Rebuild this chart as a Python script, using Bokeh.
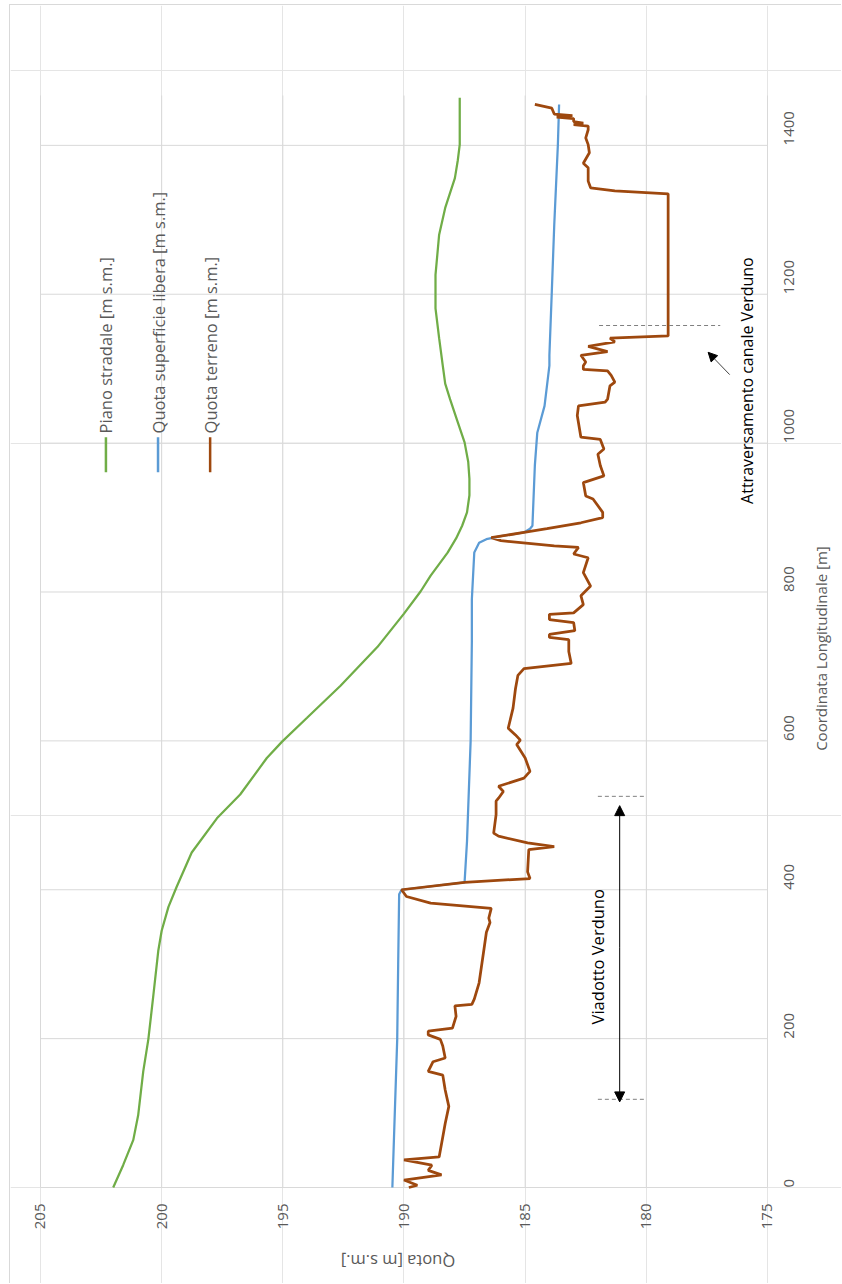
import math
from bokeh.plotting import figure
from bokeh.models import Range1d, FixedTicker, Arrow, NormalHead, LinearAxis
from bokeh.core.properties import value
from bokeh.embed import file_html
from bokeh.resources import INLINE

# Piano stradale [m s.m.]
coord_strada = [0, 30, 64, 97, 156, 199, 259, 318, 345, 377, 404, 450, 496, 528, 577,
                599, 631, 674, 726, 771, 801, 822, 853, 872, 889, 907, 930, 952, 975,
                1001, 1030, 1059, 1080, 1104, 1141, 1181, 1226, 1280, 1316, 1356, 1380,
                1401, 1464]
quota_strada = [202.0, 201.59, 201.17, 200.97, 200.76, 200.55, 200.34, 200.14, 200.0,
                199.72, 199.38, 198.76, 197.72, 196.76, 195.66, 195.03, 194.0, 192.62,
                191.1, 190.0, 189.31, 188.9, 188.2, 187.85, 187.6, 187.4, 187.3, 187.3,
                187.35, 187.5, 187.8, 188.1, 188.3, 188.4, 188.55, 188.7, 188.7, 188.55,
                188.3, 187.9, 187.78, 187.7, 187.7]

# Quota superficie libera [m s.m.]
coord_acqua = [0, 100, 199, 300, 394, 400, 410, 465, 600, 733, 790, 853, 866, 871,
               875, 880, 885, 889, 970, 1014, 1050, 1104, 1118, 1204, 1293, 1401, 1455]
quota_acqua = [190.48, 190.38, 190.28, 190.24, 190.2, 190.1, 187.5, 187.4, 187.25, 187.2,
               187.2, 187.1, 186.9, 186.6, 186.0, 185.05, 184.8, 184.7, 184.6, 184.5,
               184.2, 184.0, 184.0, 183.9, 183.8, 183.65, 183.6]

# Quota terreno [m s.m.]
coord_terreno = [0, 3, 10, 17, 23, 30, 37, 41, 68, 86, 109, 131, 151, 156, 169, 174,
                 190, 199, 205, 210, 214, 230, 244, 246, 253, 275, 320, 343, 356, 362,
                 375, 382, 391, 400, 410, 415, 424, 454, 458, 463, 472, 476, 501, 519,
                 523, 532, 539, 550, 559, 577, 595, 601, 608, 617, 644, 670, 688, 697,
                 704, 720, 736, 739, 743, 748, 759, 763, 770, 772, 783, 795, 808, 826,
                 846, 851, 860, 862, 869, 873, 880, 885, 893, 900, 907, 925, 929, 947,
                 956, 970, 985, 992, 1005, 1008, 1037, 1050, 1055, 1059, 1077, 1082,
                 1091, 1097, 1099, 1104, 1109, 1118, 1123, 1130, 1136, 1141, 1144,
                 1335, 1339, 1343, 1352, 1370, 1376, 1390, 1401, 1410, 1421, 1426,
                 1428, 1430, 1432, 1436, 1438, 1440, 1442, 1450, 1455]
quota_terreno = [189.8, 189.45, 190.0, 188.45, 189.0, 188.85, 190.0, 188.55, 188.4,
                 188.3, 188.15, 188.3, 188.4, 189.0, 188.8, 188.3, 188.4, 188.5, 189.0,
                 189.0, 188.0, 187.85, 187.9, 187.2, 187.1, 186.9, 186.7, 186.6, 186.45,
                 186.5, 186.4, 188.9, 189.9, 190.1, 187.5, 184.8, 184.9, 184.85, 183.8,
                 184.9, 186.1, 186.3, 186.2, 186.2, 186.1, 185.9, 186.1, 185.05, 184.8,
                 185.0, 185.35, 185.2, 185.4, 185.7, 185.5, 185.4, 185.3, 185.05, 183.1,
                 183.2, 183.2, 184.0, 184.0, 182.95, 183.0, 184.0, 184.0, 183.0, 182.6,
                 182.7, 182.3, 182.6, 182.4, 183.0, 182.8, 183.8, 186.0, 186.4, 185.05,
                 184.1, 182.7, 181.8, 181.8, 182.2, 182.5, 182.6, 181.75, 181.9, 182.0,
                 181.75, 181.9, 182.7, 182.85, 182.8, 181.7, 181.6, 181.5, 181.3, 181.45,
                 181.6, 182.6, 182.6, 182.5, 182.7, 181.6, 182.4, 181.3, 181.5, 179.1,
                 179.1, 181.3, 182.3, 182.4, 182.4, 182.6, 182.35, 182.4, 182.5, 182.4,
                 182.4, 183.0, 182.6, 183.0, 183.0, 183.7, 183.05, 183.8, 183.9, 184.6]

quota_ticks = [175, 180, 185, 190, 195, 200, 205]
coord_ticks = [0, 200, 400, 600, 800, 1000, 1200, 1400]

serie = [
    ("Piano stradale [m s.m.]", coord_strada, quota_strada, "#70AD47", 2.25),
    ("Quota superficie libera [m s.m.]", coord_acqua, quota_acqua, "#5B9BD5", 2.25),
    ("Quota terreno [m s.m.]", coord_terreno, quota_terreno, "#9E480E", 2.75),
]

FONT = "Open Sans"
GREY = "#595959"

# plotting area: quota 205 -> 175, progressive 0 -> COORD_TOP
Q_LEFT, Q_RIGHT = 205, 175
COORD_TOP = 1467

# the drawing frame fills the whole canvas; axes are pinned inside it
# (x: 24.23 px per metre of quota, y: 0.7444 px per metre of progressive)
p = figure(width=832, height=1279, output_backend="svg", toolbar_location=None,
           x_range=Range1d(206.238, 171.905), y_range=Range1d(-130.3, 1587.9),
           x_axis_location=None, y_axis_location=None,
           min_border_left=0, min_border_right=0, min_border_top=0,
           min_border_bottom=0)
p.margin = (4, 0, 0, 9)
p.styles = {"border-top": "1px solid #d9d9d9", "border-left": "1px solid #d9d9d9"}
p.outline_line_color = None
p.background_fill_color = "white"
p.border_fill_color = "white"

# grid limited to the plotting area
p.segment(x0=quota_ticks, y0=[0] * len(quota_ticks),
          x1=quota_ticks, y1=[COORD_TOP] * len(quota_ticks),
          line_color="#d9d9d9", line_width=1)
p.segment(x0=[Q_LEFT] * len(coord_ticks), y0=coord_ticks,
          x1=[Q_RIGHT] * len(coord_ticks), y1=coord_ticks,
          line_color="#d9d9d9", line_width=1)

# elevation axis along progressive 0, chainage axis along quota 175
xa = LinearAxis(fixed_location=0, ticker=FixedTicker(ticks=quota_ticks))
ya = LinearAxis(fixed_location=Q_RIGHT, ticker=FixedTicker(ticks=coord_ticks))
for ax in (xa, ya):
    ax.axis_line_color = None
    ax.major_tick_line_color = None
    ax.minor_tick_line_color = None
    ax.major_label_orientation = math.pi / 2
    ax.major_label_text_font = FONT
    ax.major_label_text_font_size = "15px"
    ax.major_label_text_color = GREY
xa.major_label_standoff = 10
ya.major_label_standoff = 16
p.add_layout(xa, "below")
p.add_layout(ya, "right")

# axis titles
p.text(x=[190.25], y=[-99], text=["Quota [m s.m.]"], angle=math.pi,
       text_font=value(FONT), text_font_size="16.5px", text_color=GREY,
       text_align="center", text_baseline="middle")
p.text(x=[172.81], y=[724], text=["Coordinata Longitudinale [m]"], angle=math.pi / 2,
       text_font=value(FONT), text_font_size="15px", text_color=GREY,
       text_align="center", text_baseline="middle")

for name, c, q, col, w in serie:
    p.line(q, c, line_color=col, line_width=w)

# legend, laid out as vertical entries
leg_x = [202.3, 200.15, 198.0]
for (name, c, q, col, w), lx in zip(serie, leg_x):
    p.segment(x0=[lx], y0=[961], x1=[lx], y1=[1008], line_color=col, line_width=2.5)
    p.text(x=[lx], y=[1013], text=[name], angle=math.pi / 2,
           text_font=value(FONT), text_font_size="16.5px", text_color=GREY,
           text_align="left", text_baseline="middle")

# Viadotto Verduno
p.segment(x0=[182.0, 182.0], y0=[118.5, 525.5], x1=[180.0, 180.0], y1=[118.5, 525.5],
          line_color="#808080", line_width=1, line_dash="4 3")
p.add_layout(Arrow(x_start=181.1, y_start=322, x_end=181.1, y_end=513,
                   line_color="black", line_width=1,
                   end=NormalHead(size=10, fill_color="black", line_color="black")))
p.add_layout(Arrow(x_start=181.1, y_start=322, x_end=181.1, y_end=115,
                   line_color="black", line_width=1,
                   end=NormalHead(size=10, fill_color="black", line_color="black")))
p.text(x=[182.0], y=[310], text=["Viadotto Verduno"], angle=math.pi / 2,
       text_font=value(FONT), text_font_size="16.5px", text_color="black",
       text_align="center", text_baseline="middle")

# Attraversamento canale Verduno
p.segment(x0=[181.95], y0=[1158], x1=[176.95], y1=[1158],
          line_color="#808080", line_width=1, line_dash="4 3")
p.add_layout(Arrow(x_start=176.56, y_start=1092, x_end=177.45, y_end=1122,
                   line_color="#404040", line_width=1,
                   end=NormalHead(size=9, fill_color="black", line_color="black")))
p.text(x=[175.83], y=[1084], text=["Attraversamento canale Verduno"], angle=math.pi / 2,
       text_font=value(FONT), text_font_size="16px", text_color="black",
       text_align="center", text_baseline="middle")

open("out.html", "w").write(file_html(p, INLINE))
